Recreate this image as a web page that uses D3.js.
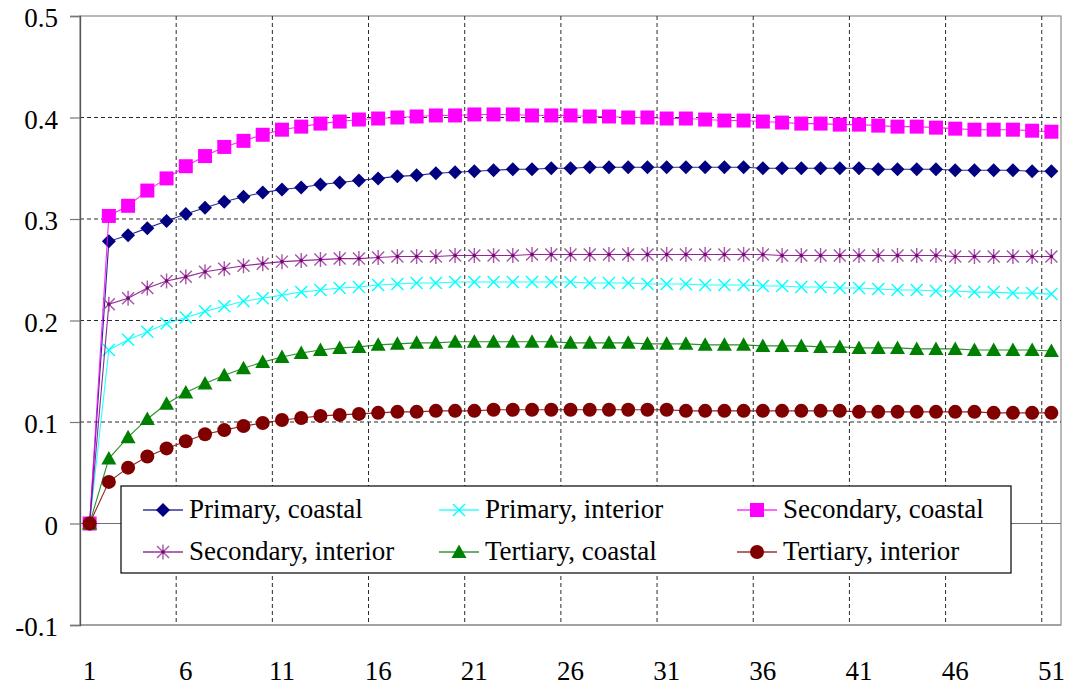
<!DOCTYPE html>
<html>
<head>
<meta charset="utf-8">
<script src="https://cdn.jsdelivr.net/npm/d3@7"></script>
<style>
  html, body { margin: 0; padding: 0; background: #ffffff; }
  svg { display: block; }
  text { font-family: "Liberation Serif", "DejaVu Serif", serif; fill: #000; }
</style>
</head>
<body>
<svg id="chart" width="1067" height="687"></svg>
<script>
// Periods on the horizontal axis
const periods = d3.range(1, 52);
const xTickLabels = ["1", "6", "11", "16", "21", "26", "31", "36", "41", "46", "51"];
const yTickValues = [-0.1, 0, 0.1, 0.2, 0.3, 0.4, 0.5];
const yTickLabels = ["-0.1", "0", "0.1", "0.2", "0.3", "0.4", "0.5"];

// Series values, one per period
const primaryCoastal = [0, 0.278, 0.284, 0.291, 0.298, 0.305, 0.311, 0.317, 0.322, 0.326,
  0.329, 0.331, 0.334, 0.336, 0.338, 0.340, 0.342, 0.343, 0.345, 0.346,
  0.347, 0.348, 0.349, 0.349, 0.350, 0.350, 0.351, 0.351, 0.351, 0.351,
  0.351, 0.351, 0.351, 0.351, 0.351, 0.350, 0.350, 0.350, 0.350, 0.350,
  0.350, 0.349, 0.349, 0.349, 0.349, 0.348, 0.348, 0.348, 0.348, 0.347, 0.347];
const primaryInterior = [0, 0.171, 0.181, 0.189, 0.197, 0.203, 0.209, 0.214, 0.219, 0.222,
  0.225, 0.228, 0.230, 0.232, 0.233, 0.235, 0.236, 0.237, 0.237, 0.238,
  0.238, 0.238, 0.238, 0.238, 0.238, 0.238, 0.237, 0.237, 0.237, 0.236,
  0.236, 0.236, 0.235, 0.235, 0.235, 0.234, 0.234, 0.233, 0.233, 0.232,
  0.232, 0.231, 0.230, 0.230, 0.229, 0.229, 0.228, 0.228, 0.227, 0.227, 0.226];
const secondaryCoastal = [0, 0.303, 0.313, 0.328, 0.340, 0.352, 0.362, 0.371, 0.377, 0.383,
  0.388, 0.391, 0.394, 0.396, 0.398, 0.399, 0.400, 0.401, 0.402, 0.402,
  0.403, 0.403, 0.403, 0.402, 0.402, 0.402, 0.401, 0.401, 0.400, 0.400,
  0.399, 0.399, 0.398, 0.397, 0.397, 0.396, 0.395, 0.394, 0.394, 0.393,
  0.393, 0.392, 0.391, 0.391, 0.390, 0.389, 0.388, 0.388, 0.388, 0.387, 0.386];
const secondaryInterior = [0, 0.216, 0.222, 0.232, 0.239, 0.243, 0.248, 0.251, 0.254, 0.256,
  0.258, 0.259, 0.260, 0.261, 0.261, 0.262, 0.263, 0.263, 0.263, 0.264,
  0.264, 0.264, 0.264, 0.265, 0.265, 0.265, 0.265, 0.265, 0.265, 0.265,
  0.265, 0.265, 0.265, 0.265, 0.265, 0.265, 0.264, 0.264, 0.264, 0.264,
  0.264, 0.264, 0.264, 0.264, 0.264, 0.263, 0.263, 0.263, 0.263, 0.263, 0.263];
const tertiaryCoastal = [0, 0.064, 0.085, 0.103, 0.118, 0.129, 0.138, 0.146, 0.153, 0.159,
  0.164, 0.168, 0.171, 0.173, 0.174, 0.176, 0.177, 0.178, 0.178, 0.179,
  0.179, 0.179, 0.179, 0.179, 0.179, 0.178, 0.178, 0.178, 0.178, 0.177,
  0.177, 0.177, 0.176, 0.176, 0.176, 0.175, 0.175, 0.175, 0.174, 0.174,
  0.173, 0.173, 0.173, 0.172, 0.172, 0.172, 0.171, 0.171, 0.171, 0.171, 0.170];
const tertiaryInterior = [0, 0.041, 0.055, 0.066, 0.074, 0.081, 0.088, 0.092, 0.096, 0.099,
  0.102, 0.104, 0.106, 0.107, 0.108, 0.109, 0.110, 0.110, 0.111, 0.111,
  0.111, 0.112, 0.112, 0.112, 0.112, 0.112, 0.112, 0.112, 0.112, 0.112,
  0.112, 0.111, 0.111, 0.111, 0.111, 0.111, 0.111, 0.111, 0.111, 0.111,
  0.110, 0.110, 0.110, 0.110, 0.110, 0.110, 0.110, 0.109, 0.109, 0.109, 0.109];

const seriesNames = ["Primary, coastal", "Primary, interior", "Secondary, coastal",
  "Secondary, interior", "Tertiary, coastal", "Tertiary, interior"];
const seriesValues = [primaryCoastal, primaryInterior, secondaryCoastal,
  secondaryInterior, tertiaryCoastal, tertiaryInterior];

// Marker shapes and colours per series
const styles = [
  { line: "#000080", fill: "#000080", stroke: "none", path: "M0,-7L7,0L0,7L-7,0Z" },
  { line: "#00ffff", fill: "none", stroke: "#00ffff", sw: 1.4, path: "M-6,-6L6,6M-6,6L6,-6" },
  { line: "#ff00ff", fill: "#ff00ff", stroke: "none", path: "M-7,-7H7V7H-7Z" },
  { line: "#800080", fill: "none", stroke: "#a455a4", sw: 1.4, path: "M-6,-6L6,6M-6,6L6,-6M0,-7.5V7.5", dot: "#800080" },
  { line: "#008000", fill: "#008000", stroke: "none", path: "M0,-7.5L7.5,6L-7.5,6Z" },
  { line: "#800000", fill: "#800000", stroke: "none", circle: 7 }
];

const plot = { left: 80, right: 1061, top: 16, bottom: 625 };

const svg = d3.select("#chart");

const x = d3.scaleBand()
  .domain(periods)
  .range([plot.left, plot.right])
  .paddingInner(0).paddingOuter(0);
const xc = d => x(d) + x.bandwidth() / 2;

const y = d3.scaleLinear()
  .domain([-0.1, 0.5])
  .range([plot.bottom, plot.top]);

// Plot area frame (top and right edges)
svg.append("rect")
  .attr("x", plot.left).attr("y", plot.top)
  .attr("width", plot.right - plot.left).attr("height", plot.bottom - plot.top)
  .attr("fill", "#fff").attr("stroke", "#8c8c8c").attr("stroke-width", 1.2);

// Horizontal dashed gridlines
svg.append("g")
  .selectAll("line")
  .data(yTickValues.filter(v => v > 0 && v < 0.5))
  .join("line")
  .attr("x1", plot.left).attr("x2", plot.right)
  .attr("y1", d => y(d)).attr("y2", d => y(d))
  .attr("stroke", "#2a2a2a").attr("stroke-width", 1)
  .attr("stroke-dasharray", "4,3");

// Vertical dashed gridlines at every fifth category boundary
const boundaries = periods.filter(p => p % 5 === 0);
svg.append("g")
  .selectAll("line")
  .data(boundaries)
  .join("line")
  .attr("x1", d => x(d) + x.bandwidth()).attr("x2", d => x(d) + x.bandwidth())
  .attr("y1", plot.top).attr("y2", plot.bottom)
  .attr("stroke", "#2a2a2a").attr("stroke-width", 1)
  .attr("stroke-dasharray", "4,3");

// Category axis crossing at zero
svg.append("line")
  .attr("x1", plot.left).attr("x2", plot.right)
  .attr("y1", y(0)).attr("y2", y(0))
  .attr("stroke", "#6e6e6e").attr("stroke-width", 1.2);

// Bottom edge
svg.append("line")
  .attr("x1", plot.left).attr("x2", plot.right)
  .attr("y1", plot.bottom).attr("y2", plot.bottom)
  .attr("stroke", "#9a9a9a").attr("stroke-width", 1.5);

// Value axis
const yAxis = d3.axisLeft(y)
  .tickValues(yTickValues)
  .tickFormat((d, i) => yTickLabels[i])
  .tickSize(10)
  .tickPadding(12);
const yg = svg.append("g")
  .attr("transform", `translate(${plot.left},0)`)
  .call(yAxis);
yg.select(".domain").attr("stroke", "#555").attr("stroke-width", 1.3);
yg.selectAll(".tick line").attr("stroke", "#777").attr("stroke-width", 1.2);
yg.selectAll(".tick text")
  .attr("font-family", "Liberation Serif, serif")
  .attr("font-size", 27)
  .attr("dy", "0.4em")
  .attr("fill", "#000");

// Category labels
const xAxis = d3.axisBottom(x)
  .tickValues(xTickLabels.map(Number))
  .tickFormat(d => String(d))
  .tickSize(0)
  .tickPadding(0);
const xg = svg.append("g")
  .attr("transform", `translate(0,${plot.bottom})`)
  .call(xAxis);
xg.select(".domain").remove();
xg.selectAll(".tick text")
  .attr("font-family", "Liberation Serif, serif")
  .attr("font-size", 27)
  .attr("y", 55)
  .attr("dy", 0)
  .attr("fill", "#000");

// Series lines and markers
function drawMarker(g, s) {
  if (s.circle) {
    g.append("circle").attr("r", s.circle).attr("fill", s.fill);
  } else {
    g.append("path").attr("d", s.path)
      .attr("fill", s.fill)
      .attr("stroke", s.stroke)
      .attr("stroke-width", s.sw || 0);
  }
  if (s.dot) g.append("circle").attr("r", 1.8).attr("fill", s.dot);
}

const line = d3.line().x((d, i) => xc(periods[i])).y(d => y(d));

seriesValues.forEach((vals, k) => {
  const s = styles[k];
  const g = svg.append("g");
  g.append("path")
    .datum(vals)
    .attr("d", line)
    .attr("fill", "none")
    .attr("stroke", s.line)
    .attr("stroke-width", 1.1)
    .attr("stroke-opacity", 0.85);
  g.selectAll("g.m")
    .data(vals)
    .join("g")
    .attr("class", "m")
    .attr("transform", (d, i) => `translate(${xc(periods[i])},${y(d)})`)
    .each(function () { drawMarker(d3.select(this), s); });
});

// Legend
const legend = { x: 121, y: 486, w: 890, h: 87 };
const lg = svg.append("g");
lg.append("rect")
  .attr("x", legend.x).attr("y", legend.y)
  .attr("width", legend.w).attr("height", legend.h)
  .attr("fill", "#fff").attr("stroke", "#000").attr("stroke-width", 1.2);

const colX = [143, 439, 737];
const rowY = [510, 552];
seriesNames.forEach((name, k) => {
  const s = styles[k];
  const cx = colX[k % 3];
  const cy = rowY[Math.floor(k / 3)];
  const item = lg.append("g").attr("transform", `translate(${cx},${cy})`);
  item.append("line")
    .attr("x1", 0).attr("x2", 40).attr("y1", 0).attr("y2", 0)
    .attr("stroke", s.line).attr("stroke-width", 1.3).attr("stroke-opacity", 0.8);
  drawMarker(item.append("g").attr("transform", "translate(20,0)"), s);
  item.append("text")
    .attr("x", 46).attr("y", 8)
    .attr("font-size", 27)
    .text(name);
});
</script>
</body>
</html>
